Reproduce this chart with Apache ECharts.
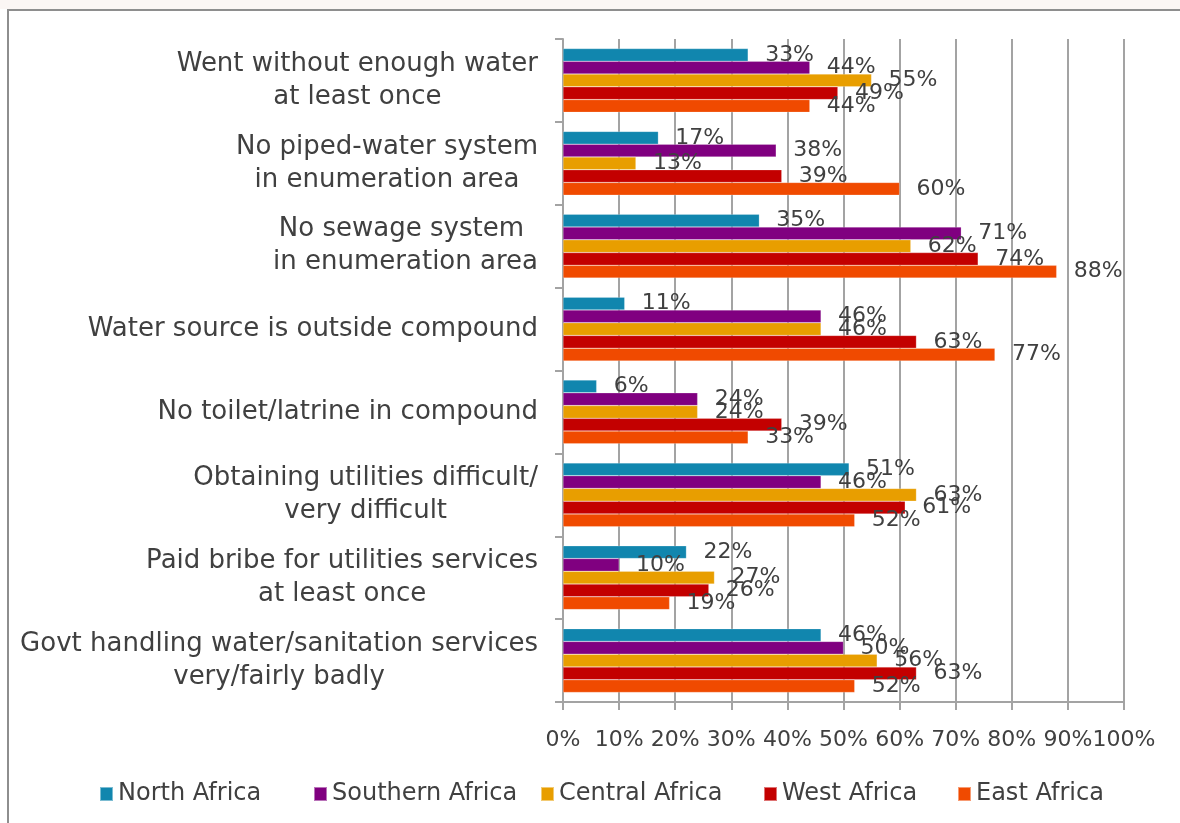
<!DOCTYPE html>
<html>
<head>
<meta charset="utf-8">
<script src="https://cdn.jsdelivr.net/npm/echarts@6/dist/echarts.min.js"></script>
<style>
  html, body { margin: 0; padding: 0; background: #ffffff; }
  #strip { position: absolute; left: 0; top: 0; width: 1180px; height: 9px; background: #fbf6f4; }
  #frame { position: absolute; left: 7px; top: 9px; width: 1200px; height: 840px;
           border-left: 2px solid #8e8e8e; border-top: 2px solid #8e8e8e; }
  #chart { position: absolute; left: 0; top: 0; width: 1180px; height: 823px; }
</style>
</head>
<body>
<div id="strip"></div>
<div id="frame"></div>
<div id="chart"></div>
<script>
// Survey items (top to bottom), each split into the lines it is shown on
const categories = [
  ['Went without enough water', 'at least once'],
  ['No piped-water system', 'in enumeration area'],
  ['No sewage system ', 'in enumeration area'],
  ['Water source is outside compound'],
  ['No toilet/latrine in compound'],
  ['Obtaining utilities difficult/', 'very difficult'],
  ['Paid bribe for utilities services', 'at least once'],
  ['Govt handling water/sanitation services', 'very/fairly badly']
];

const regions = ['North Africa', 'Southern Africa', 'Central Africa', 'West Africa', 'East Africa'];

// Share of respondents (%) per survey item
const northAfrica    = [33, 17, 35, 11,  6, 51, 22, 46];
const southernAfrica = [44, 38, 71, 46, 24, 46, 10, 50];
const centralAfrica  = [55, 13, 62, 46, 24, 63, 27, 56];
const westAfrica     = [49, 39, 74, 63, 39, 61, 26, 63];
const eastAfrica     = [44, 60, 88, 77, 33, 52, 19, 52];

const xTicks = { min: 0, max: 100, step: 10 };

const seriesValues = [northAfrica, southernAfrica, centralAfrica, westAfrica, eastAfrica];
const colors = ['#1186ae', '#800080', '#e89e00', '#c30000', '#f04a00'];

// left edge of each legend entry's swatch
const legendLefts = [99, 313, 540, 763, 957];

const FONT = 'DejaVu Sans';
const TEXT = '#404040';
const GRID = '#a3a3a3';

const chart = echarts.init(document.getElementById('chart'), null, { renderer: 'canvas' });

chart.setOption({
  animation: false,
  textStyle: { fontFamily: FONT, color: TEXT },
  grid: { left: 563, right: 56, top: 39, bottom: 121, containLabel: false },
  legend: regions.map((name, i) => ({
    data: [name],
    left: legendLefts[i],
    top: 782,
    padding: 0,
    icon: 'rect',
    itemWidth: 13,
    itemHeight: 14,
    itemGap: 0,
    textStyle: { fontFamily: FONT, fontSize: 24, color: TEXT, padding: [2, 0, 0, 0] }
  })),
  xAxis: {
    type: 'value',
    min: xTicks.min,
    max: xTicks.max,
    interval: xTicks.step,
    axisLine: { show: true, lineStyle: { color: GRID, width: 2 } },
    axisTick: { show: true, length: 8, inside: false, lineStyle: { color: GRID, width: 2 } },
    splitLine: { show: true, lineStyle: { color: GRID, width: 2 } },
    axisLabel: {
      formatter: '{value}%',
      fontFamily: FONT,
      fontSize: 22,
      color: TEXT,
      margin: 27,
      showMinLabel: true,
      showMaxLabel: true,
      hideOverlap: false
    }
  },
  yAxis: {
    type: 'category',
    inverse: true,
    data: categories.map(c => c.join('\n')),
    axisLine: { show: true, lineStyle: { color: GRID, width: 2 } },
    axisTick: { show: true, length: 8, lineStyle: { color: GRID, width: 2 } },
    splitLine: { show: false },
    axisLabel: {
      margin: 25,
      fontFamily: FONT,
      fontSize: 26,
      color: TEXT,
      lineHeight: 33,
      align: 'right',
      formatter: v => v.split('\n').map(line => '{c|' + line + '}').join('\n'),
      rich: {
        c: { align: 'center', fontFamily: FONT, fontSize: 26, color: TEXT, lineHeight: 33 }
      }
    }
  },
  series: regions.map((name, i) => ({
    name: name,
    type: 'bar',
    data: seriesValues[i],
    barGap: '0%',
    barCategoryGap: '23%',
    itemStyle: { color: colors[i], borderColor: 'rgba(255,255,255,0.45)', borderWidth: 0.5 },
    label: {
      show: true,
      position: 'right',
      distance: 17,
      offset: [0, 2],
      formatter: '{c}%',
      fontFamily: FONT,
      fontSize: 22,
      color: TEXT
    },
    labelLayout: { hideOverlap: false }
  }))
});
</script>
</body>
</html>
